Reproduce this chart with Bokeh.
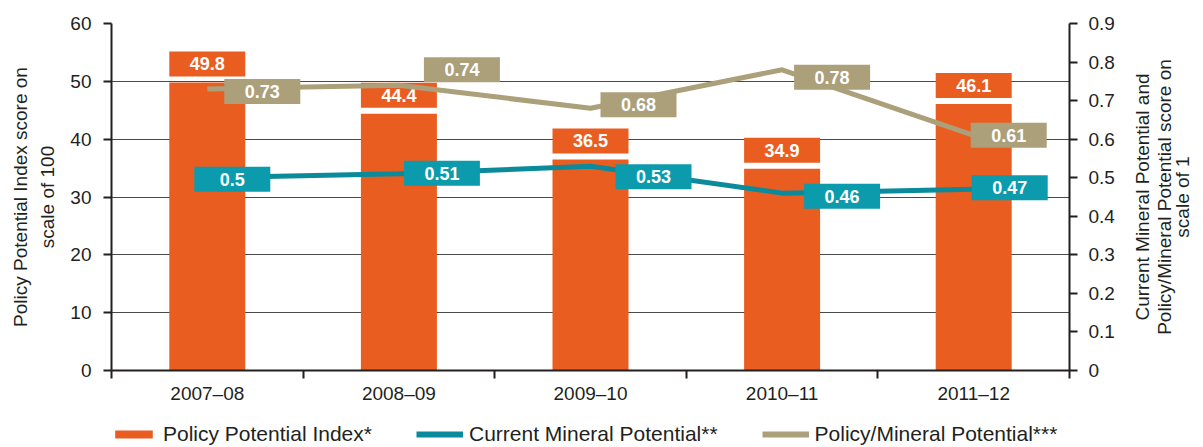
import math
from bokeh.plotting import figure
from bokeh.layouts import row, column
from bokeh.models import Range1d, LinearAxis, FixedTicker, Legend, LegendItem
from bokeh.core.properties import value
from bokeh.embed import file_html
from bokeh.resources import INLINE

# ---------------- data ----------------
categories = ["2007–08", "2008–09", "2009–10", "2010–11", "2011–12"]
policy_index = [49.8, 44.4, 36.5, 34.9, 46.1]
current_mineral = [0.5, 0.51, 0.53, 0.46, 0.47]
policy_mineral = [0.73, 0.74, 0.68, 0.78, 0.61]
policy_index_labels = ["49.8", "44.4", "36.5", "34.9", "46.1"]
current_mineral_labels = ["0.5", "0.51", "0.53", "0.46", "0.47"]
policy_mineral_labels = ["0.73", "0.74", "0.68", "0.78", "0.61"]
left_ticks = [0, 10, 20, 30, 40, 50, 60]
right_ticks = [0, 0.1, 0.2, 0.3, 0.4, 0.5, 0.6, 0.7, 0.8, 0.9]
right_tick_labels = ["0", "0.1", "0.2", "0.3", "0.4", "0.5", "0.6", "0.7", "0.8", "0.9"]
left_title = "Policy Potential Index score on\nscale of 100"
right_title_lines = ["Current Mineral Potential and",
                     "Policy/Mineral Potential score on",
                     "scale of 1"]
legend_labels = ["Policy Potential Index*", "Current Mineral Potential**",
                 "Policy/Mineral Potential***"]

# ---------------- style ----------------
FONT = "Liberation Sans"
FS = "19px"
FS_BOX = "18px"
DARK = "#231F20"
ORANGE = "#E95E20"
TEAL_BOX = "#0B9BAD"
TEAL_LINE = "#0A8A9B"
KHAKI = "#ABA07A"
FRAME_W, FRAME_H = 958, 347
TOP = 23
LEFT = 111
BOTTOM = 45
BOX_W, BOX_H = 76, 25
# screen-pixel offsets of value boxes (style only)
pm_dx = [55, 63, 48, 50, 35]
pm_dy = [-2.5, 15.5, 3.5, -7.5, 0]
cm_dx = [25, 43, 63, 60, 36]
cm_dy = [-1.5, 0.5, -10.5, -3, 1.5]
BAR_BOX_GAP = 6
RIGHT_TITLE_X = [25, 47, 65]   # px inside the side panel

n = len(categories)
xc = [i + 0.5 for i in range(n)]
PX_X = FRAME_W / n
PX_L = FRAME_H / 60
PX_R = FRAME_H / 0.9

p = figure(frame_width=FRAME_W, frame_height=FRAME_H,
           x_range=Range1d(0, n), y_range=Range1d(0, 60),
           output_backend="svg", toolbar_location=None,
           min_border_left=LEFT, min_border_right=48,
           min_border_top=TOP, min_border_bottom=BOTTOM)
p.extra_y_ranges = {"r": Range1d(0, 0.9)}
p.outline_line_color = None
p.background_fill_color = "white"
p.border_fill_color = "white"

# bars
bars = p.vbar(x=xc, top=policy_index, width=BOX_W / PX_X,
              fill_color=ORANGE, line_color=None)
bar_box_y = [v + (BAR_BOX_GAP + BOX_H / 2) / PX_L for v in policy_index]
p.rect(x=xc, y=bar_box_y, width=BOX_W, height=BOX_H,
       width_units="screen", height_units="screen",
       fill_color=ORANGE, line_color=None)
p.text(x=xc, y=bar_box_y, text=policy_index_labels, text_align="center",
       text_baseline="middle", text_color="white", text_font=value(FONT),
       text_font_style="bold", text_font_size=FS_BOX)

# lines
p.line(xc, policy_mineral, y_range_name="r", line_width=5, line_color=KHAKI)
p.line(xc, current_mineral, y_range_name="r", line_width=5, line_color=TEAL_LINE)

def boxes(vals, labels, dx, dy, color):
    bx = [x + d / PX_X for x, d in zip(xc, dx)]
    by = [v + d / PX_R for v, d in zip(vals, dy)]
    p.rect(x=bx, y=by, width=BOX_W, height=BOX_H, width_units="screen",
           height_units="screen", fill_color=color, line_color=None,
           y_range_name="r")
    p.text(x=bx, y=by, text=labels, text_align="center", text_baseline="middle",
           text_color="white", text_font=value(FONT), text_font_style="bold",
           text_font_size=FS_BOX, y_range_name="r")

boxes(policy_mineral, policy_mineral_labels, pm_dx, pm_dy, KHAKI)
boxes(current_mineral, current_mineral_labels, cm_dx, cm_dy, TEAL_BOX)

# grid
p.xgrid.visible = False
p.ygrid.ticker = FixedTicker(ticks=left_ticks)
p.ygrid.grid_line_color = "#4a4a4a"
p.ygrid.grid_line_width = 1

def style_axis(ax):
    ax.axis_line_color = DARK
    ax.axis_line_width = 2
    ax.major_tick_line_color = DARK
    ax.major_tick_line_width = 2
    ax.minor_tick_line_color = DARK
    ax.minor_tick_line_width = 2
    ax.major_tick_in = 0
    ax.major_tick_out = 8
    ax.minor_tick_in = 0
    ax.minor_tick_out = 0
    ax.major_label_text_font = FONT
    ax.major_label_text_font_size = FS
    ax.major_label_text_color = DARK
    ax.axis_label_text_font = FONT
    ax.axis_label_text_font_size = FS
    ax.axis_label_text_font_style = "normal"
    ax.axis_label_text_color = DARK

# x axis
xa = p.xaxis[0]
style_axis(xa)
xa.ticker = FixedTicker(ticks=xc, minor_ticks=list(range(n + 1)))
xa.major_tick_out = 0
xa.minor_tick_out = 8
xa.major_label_overrides = {x: c for x, c in zip(xc, categories)}
xa.major_label_standoff = 4

# left axis
ya = p.yaxis[0]
style_axis(ya)
ya.ticker = FixedTicker(ticks=left_ticks)
ya.major_label_standoff = 12
ya.axis_label = left_title
ya.axis_label_standoff = 9
ya.axis_label_text_line_height = 1.3

# right axis
ra = LinearAxis(y_range_name="r")
style_axis(ra)
ra.ticker = FixedTicker(ticks=right_ticks)
ra.major_label_overrides = {t: s for t, s in zip(right_ticks, right_tick_labels)}
ra.major_label_standoff = 11
p.add_layout(ra, "right")

# side panel holding the right-hand axis title (reads bottom-to-top)
s = figure(frame_width=79, frame_height=FRAME_H, x_range=Range1d(0, 79),
           y_range=Range1d(0, 1), output_backend="svg", toolbar_location=None,
           min_border_left=0, min_border_right=0, min_border_top=TOP,
           min_border_bottom=0, x_axis_type=None, y_axis_type=None)
s.xgrid.visible = False
s.ygrid.visible = False
s.outline_line_color = None
s.background_fill_color = "white"
s.border_fill_color = "white"
s.text(x=RIGHT_TITLE_X, y=[0.5] * 3, text=right_title_lines, angle=math.pi / 2,
       text_align="center", text_baseline="middle", text_color=DARK,
       text_font=value(FONT), text_font_size=FS)

# legend strip below the chart (legend-only renderers sit outside the view)
lg = figure(frame_width=1070, frame_height=31, x_range=Range1d(0, 1),
            y_range=Range1d(0, 1), output_backend="svg", toolbar_location=None,
            min_border_left=LEFT - 1, min_border_right=0, min_border_top=0,
            min_border_bottom=0, x_axis_type=None, y_axis_type=None)
lg.xgrid.visible = False
lg.ygrid.visible = False
lg.outline_line_color = None
lg.background_fill_color = "white"
lg.border_fill_color = "white"
r_bar = lg.vbar(x=[5], top=[5], bottom=[4], width=0.1, fill_color=ORANGE, line_color=None)
r_cm = lg.line(x=[5, 6], y=[5, 5], line_width=6, line_color=TEAL_LINE)
r_pm = lg.line(x=[5, 6], y=[5, 5], line_width=6, line_color=KHAKI)
legend = Legend(items=[LegendItem(label=legend_labels[0], renderers=[r_bar]),
                       LegendItem(label=legend_labels[1], renderers=[r_cm]),
                       LegendItem(label=legend_labels[2], renderers=[r_pm])],
                orientation="horizontal", location="bottom_left",
                glyph_width=47, glyph_height=10, label_standoff=6, spacing=44,
                padding=0, margin=0, border_line_color=None,
                background_fill_alpha=0, label_text_font=FONT,
                label_text_font_size="21px", label_text_color=DARK)
lg.add_layout(legend)

layout = column(row(p, s, spacing=0), lg, spacing=0)
open("out.html", "w").write(file_html(layout, INLINE))
